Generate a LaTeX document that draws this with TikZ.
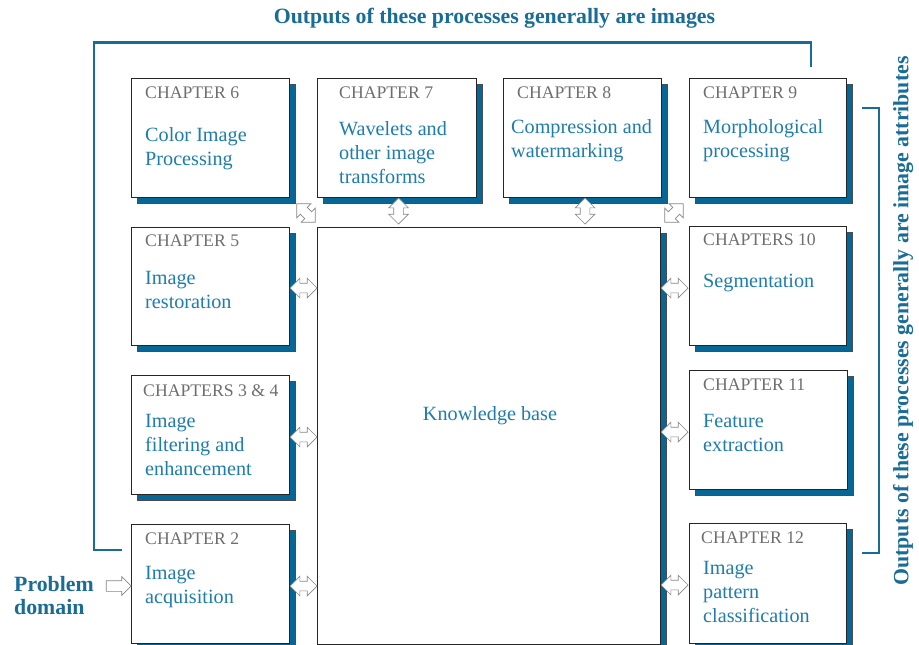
\documentclass[tikz,border=0pt]{standalone}
\usepackage{fontspec}
\setmainfont{Liberation Serif}
\usetikzlibrary{shapes.arrows,shadows}
\definecolor{titleblue}{RGB}{24,108,150}
\definecolor{bodyblue}{RGB}{30,125,172}
\definecolor{shadowblue}{RGB}{6,103,150}
\definecolor{chapgray}{RGB}{110,110,110}
\definecolor{arrowgray}{RGB}{135,135,135}
\begin{document}
\begin{tikzpicture}[x=1pt,y=-1pt,
  chbox/.style={draw=black!85, line width=0.8pt, fill=white, anchor=north west, inner sep=0pt,
    minimum width=158pt, minimum height=119pt,
    drop shadow={shadow xshift=6pt, shadow yshift=-6pt, fill=shadowblue, draw=black!70, line width=0.5pt, opacity=1}},
  lbl/.style={anchor=west, inner sep=0pt, text=chapgray, font=\fontsize{17.7}{20}\selectfont},
  body/.style={anchor=west, inner sep=0pt, text=bodyblue, align=left, font=\fontsize{20.2}{24}\selectfont},
  dar/.style={double arrow, draw=arrowgray, fill=white, line width=0.7pt, inner sep=4.5pt,
    minimum width=19pt, minimum height=27pt, double arrow head extend=5pt, double arrow head indent=0pt},
  sar/.style={single arrow, draw=arrowgray, fill=white, line width=0.7pt, inner sep=5pt,
    minimum width=18pt, minimum height=25pt, single arrow head extend=4pt, single arrow head indent=0pt},
  bracket/.style={draw=titleblue, line width=2.5pt},
  heading/.style={inner sep=0pt, text=titleblue, font=\fontsize{21.8}{23}\selectfont\bfseries, align=left}]
\useasboundingbox (0,0) rectangle (919,645);
\clip (0,0) rectangle (919,645);
\fill[white] (0,0) rectangle (919,645);

% brackets
\draw[bracket] (122,550) -- (94,550) -- (94,42.5) -- (811,42.5) -- (811,67);
\draw[bracket] (862,108) -- (879,108) -- (879,553) -- (862,553);

% headings
\node[heading] (toptitle) at (494.5,18) {Outputs of these processes generally are images};
\node[heading, rotate=90] (sidetitle) at (903,321) {Outputs of these processes generally are image attributes};
\node[heading, anchor=west] (problem) at (14,596) {Problem\\domain};

% knowledge base
\node[chbox, minimum width=343pt, minimum height=417pt] (kb) at (317,227) {};
\node[inner sep=0pt, text=bodyblue, font=\fontsize{20.2}{24}\selectfont] (kbtext) at (490,416) {Knowledge base};

% boxes
\node[chbox] (ch6) at (131,78) {};
\node[chbox, minimum width=159pt] (ch7) at (317,78) {};
\node[chbox] (ch8) at (503,78) {};
\node[chbox, minimum width=157pt] (ch9) at (689,78) {};
\node[chbox, minimum height=118pt] (ch5) at (131,227) {};
\node[chbox] (ch34) at (131,375) {};
\node[chbox] (ch2) at (131,524) {};
\node[chbox, minimum width=157pt] (ch10) at (689,226) {};
\node[chbox] (ch11) at (689,370) {};
\node[chbox, minimum width=157pt, minimum height=120pt] (ch12) at (689,523) {};

% texts
\node[lbl] (l6) at (145,93) {CHAPTER 6};
\node[body] (b6) at (145,148.5) {Color Image\\Processing};
\node[lbl] (l7) at (339,93) {CHAPTER 7};
\node[body] (b7) at (339,153) {Wavelets and\\other image\\transforms};
\node[lbl] (l8) at (517,93) {CHAPTER 8};
\node[body] (b8) at (511,141) {Compression and\\watermarking};
\node[lbl] (l9) at (703,93) {CHAPTER 9};
\node[body] (b9) at (703,141) {Morphological\\processing};
\node[lbl] (l5) at (145,241) {CHAPTER 5};
\node[body] (b5) at (145,290) {Image\\restoration};
\node[lbl] (l34) at (143,391) {CHAPTERS 3 \& 4};
\node[body] (b34) at (145,445) {Image\\filtering and\\enhancement};
\node[lbl] (l2) at (145,539) {CHAPTER 2};
\node[body] (b2) at (145,587) {Image\\acquisition};
\node[lbl] (l10) at (703,240) {CHAPTERS 10};
\node[body] (b10) at (703,283) {Segmentation};
\node[lbl] (l11) at (703,385) {CHAPTER 11};
\node[body] (b11) at (703,433) {Feature\\extraction};
\node[lbl] (l12) at (701,538) {CHAPTER 12};
\node[body] (b12) at (703,592) {Image\\pattern\\classification};

% arrows
\node[dar] (a5) at (303.5,288) {};
\node[dar] (a34) at (303.5,437) {};
\node[dar] (a2) at (303.5,586) {};
\node[dar] (a10) at (674.5,288) {};
\node[dar] (a11) at (674.5,432) {};
\node[dar] (a12) at (674.5,585) {};
\node[dar, rotate=90, minimum height=26pt] (a7) at (398.5,211) {};
\node[dar, rotate=90, minimum height=26pt] (a8) at (585,211) {};
\node[dar, rotate=-45, minimum height=26pt] (ad6) at (306,213) {};
\node[dar, rotate=45, minimum height=26pt] (ad9) at (674,213) {};
\node[sar] (ap) at (116,586) {};
\end{tikzpicture}
\end{document}
